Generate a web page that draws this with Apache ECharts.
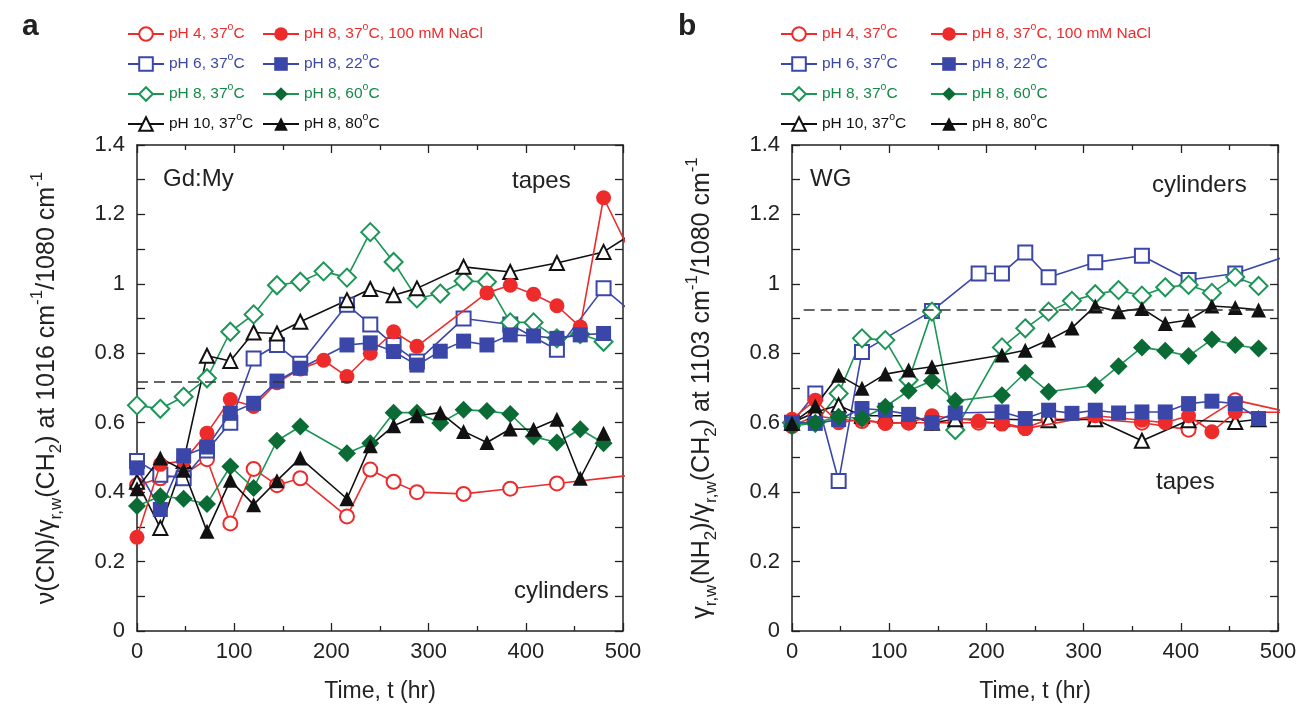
<!DOCTYPE html>
<html><head><meta charset="utf-8">
<script src="https://cdn.jsdelivr.net/npm/echarts@6/dist/echarts.min.js"></script>
<style>html,body{margin:0;padding:0;background:#fff}#c{width:1301px;height:714px}</style>
</head><body><div id="c"></div>
<script>
// ---------- data (time in hr, ratio) ----------
const seriesNames = ['pH 4, 37°C','pH 6, 37°C','pH 8, 37°C','pH 10, 37°C','pH 8, 37°C, 100 mM NaCl','pH 8, 22°C','pH 8, 60°C','pH 8, 80°C'];
const xTicks = [0,100,200,300,400,500];
const yTicks = [0,0.2,0.4,0.6,0.8,1,1.2,1.4];
const dashA = 0.717;
const dashB = 0.924;

// panel a (Gd:My)
const a_pH4   = [[0,0.42],[24,0.44],[48,0.45],[72,0.495],[96,0.31],[120,0.467],[144,0.42],[168,0.44],[216,0.33],[240,0.465],[264,0.43],[288,0.40],[336,0.395],[384,0.41],[432,0.425],[528,0.455]];
const a_pH6   = [[0,0.49],[24,0.45],[48,0.44],[72,0.52],[96,0.60],[120,0.785],[144,0.824],[168,0.77],[216,0.94],[240,0.883],[264,0.824],[288,0.776],[336,0.90],[384,0.883],[432,0.81],[480,0.987],[504,0.93]];
const a_pH8   = [[0,0.65],[24,0.64],[48,0.675],[72,0.728],[96,0.862],[120,0.912],[144,0.996],[168,1.006],[192,1.036],[216,1.018],[240,1.149],[264,1.063],[288,0.958],[312,0.972],[336,1.008],[360,1.006],[384,0.889],[408,0.889],[432,0.843],[456,0.855],[480,0.833]];
const a_pH10  = [[0,0.43],[24,0.297],[48,0.49],[72,0.793],[96,0.778],[120,0.86],[144,0.857],[168,0.891],[216,0.953],[240,0.985],[264,0.967],[288,0.987],[336,1.049],[384,1.034],[432,1.06],[480,1.092],[504,1.135]];
const a_NaCl  = [[0,0.27],[24,0.48],[48,0.49],[72,0.57],[96,0.667],[120,0.647],[144,0.715],[168,0.755],[192,0.78],[216,0.733],[240,0.80],[264,0.862],[288,0.82],[360,0.974],[384,0.996],[408,0.97],[432,0.937],[456,0.876],[480,1.248],[504,1.11]];
const a_T22   = [[0,0.47],[24,0.35],[48,0.505],[72,0.53],[96,0.627],[120,0.656],[144,0.72],[168,0.757],[216,0.824],[240,0.83],[264,0.805],[288,0.766],[312,0.806],[336,0.835],[360,0.824],[384,0.853],[408,0.85],[432,0.843],[456,0.853],[480,0.857]];
const a_T60   = [[0,0.36],[24,0.388],[48,0.381],[72,0.366],[96,0.474],[120,0.412],[144,0.548],[168,0.589],[216,0.512],[240,0.541],[264,0.629],[288,0.629],[312,0.599],[336,0.637],[360,0.634],[384,0.625],[408,0.56],[432,0.543],[456,0.581],[480,0.541]];
const a_T80   = [[0,0.41],[24,0.498],[48,0.463],[72,0.287],[96,0.434],[120,0.364],[144,0.433],[168,0.498],[216,0.381],[240,0.534],[264,0.591],[288,0.62],[312,0.629],[336,0.575],[360,0.543],[384,0.582],[408,0.581],[432,0.61],[456,0.44],[480,0.57]];

// panel b (WG)
const b_pH4   = [[0,0.59],[24,0.62],[48,0.61],[72,0.605],[96,0.60],[120,0.60],[144,0.60],[168,0.60],[192,0.60],[216,0.60],[240,0.585],[264,0.61],[312,0.61],[360,0.60],[408,0.58],[456,0.665],[504,0.635]];
const b_pH6   = [[0,0.60],[24,0.684],[48,0.432],[72,0.804],[144,0.922],[192,1.03],[216,1.03],[240,1.09],[264,1.019],[312,1.062],[360,1.081],[408,1.011],[456,1.03],[504,1.075]];
const b_pH8   = [[0,0.60],[24,0.60],[48,0.684],[72,0.843],[96,0.838],[120,0.723],[144,0.92],[168,0.579],[216,0.817],[240,0.872],[264,0.92],[288,0.951],[312,0.97],[336,0.982],[360,0.966],[384,0.99],[408,0.997],[432,0.974],[456,1.02],[480,0.994]];
const b_pH10  = [[0,0.60],[24,0.63],[48,0.65],[72,0.62],[96,0.62],[120,0.62],[144,0.60],[168,0.61],[216,0.61],[264,0.607],[312,0.61],[360,0.548],[408,0.607],[456,0.602],[480,0.61]];
const b_NaCl  = [[0,0.61],[24,0.665],[48,0.60],[72,0.61],[96,0.598],[120,0.60],[144,0.62],[192,0.605],[216,0.596],[240,0.583],[312,0.62],[360,0.607],[384,0.60],[408,0.62],[432,0.574],[456,0.63],[504,0.63]];
const b_T22   = [[0,0.60],[24,0.598],[48,0.609],[72,0.641],[96,0.636],[120,0.624],[144,0.60],[168,0.628],[216,0.631],[240,0.612],[264,0.636],[288,0.627],[312,0.636],[336,0.628],[360,0.631],[384,0.631],[408,0.655],[432,0.662],[456,0.655],[480,0.612]];
const b_T60   = [[0,0.59],[24,0.60],[48,0.617],[72,0.612],[96,0.646],[120,0.692],[144,0.721],[168,0.663],[216,0.679],[240,0.744],[264,0.689],[312,0.708],[336,0.763],[360,0.817],[384,0.807],[408,0.792],[432,0.84],[456,0.824],[480,0.814]];
const b_T80   = [[0,0.598],[24,0.648],[48,0.737],[72,0.699],[96,0.74],[120,0.752],[144,0.761],[216,0.795],[240,0.809],[264,0.838],[288,0.873],[312,0.936],[336,0.92],[360,0.929],[384,0.886],[408,0.896],[432,0.936],[456,0.932],[480,0.925]];

// ---------- styles ----------
const FONT = 'Liberation Sans, Arial, Helvetica, sans-serif';
const RED = '#ee2b2b', BLUE = '#3a47a8', GREEN = '#1a9656', DGREEN = '#0a6b34', BLACK = '#111111';
const styleOf = {
  'pH 4, 37°C':              {sym:'emptyCircle',   c:RED,   s:14, k:'r'},
  'pH 6, 37°C':              {sym:'emptyRect',     c:BLUE,  s:14, k:'b'},
  'pH 8, 37°C':              {sym:'emptyDiamond',  c:GREEN, s:18, k:'g'},
  'pH 10, 37°C':             {sym:'emptyTriangle', c:BLACK, s:14, k:'k'},
  'pH 8, 37°C, 100 mM NaCl': {sym:'circle',        c:RED,   s:15, k:'r'},
  'pH 8, 22°C':              {sym:'rect',          c:BLUE,  s:15, k:'b'},
  'pH 8, 60°C':              {sym:'diamond',       c:DGREEN,s:18, k:'g', lc:GREEN},
  'pH 8, 80°C':              {sym:'triangle',      c:BLACK, s:15, k:'k'}
};
const textCol = {r:RED, b:BLUE, g:'#128a48', k:BLACK};
const rich = {};
Object.keys(textCol).forEach(k => {
  rich[k] = {color:textCol[k], fontSize:15.5, lineHeight:24, fontFamily:FONT};
  rich[k+'s'] = {color:textCol[k], fontSize:10.5, lineHeight:12, verticalAlign:'top', fontFamily:FONT};
});
function legendFmt(name){
  const k = styleOf[name].k;
  const parts = name.split('°');
  return '{'+k+'|'+parts[0]+'}{'+k+'s|o}{'+k+'|'+parts[1]+'}';
}

function mkSeries(name, data, gi, markY, markFrom){
  const st = styleOf[name];
  const empty = st.sym.indexOf('empty') === 0;
  const s = {
    name, type:'line', data, xAxisIndex: gi*2, yAxisIndex: gi*2,
    symbol: st.sym, symbolSize: st.s, showAllSymbol:true, clip:true,
    lineStyle:{color: st.lc || st.c, width:1.6},
    itemStyle:{color: st.c, borderColor: st.c, borderWidth: empty ? 1.2 : 0},
    emphasis:{disabled:true}, animation:false, z: empty ? 3 : 4
  };
  if (markY !== undefined) {
    s.markLine = {silent:true, symbol:'none', animation:false,
      label:{show:false},
      lineStyle:{type:[11,6], color:'#333', width:1.6},
      data:[[{coord:[markFrom, markY]},{coord:[500, markY]}]]};
  }
  return s;
}

const aData = {'pH 4, 37°C':a_pH4,'pH 6, 37°C':a_pH6,'pH 8, 37°C':a_pH8,'pH 10, 37°C':a_pH10,'pH 8, 37°C, 100 mM NaCl':a_NaCl,'pH 8, 22°C':a_T22,'pH 8, 60°C':a_T60,'pH 8, 80°C':a_T80};
const bData = {'pH 4, 37°C':b_pH4,'pH 6, 37°C':b_pH6,'pH 8, 37°C':b_pH8,'pH 10, 37°C':b_pH10,'pH 8, 37°C, 100 mM NaCl':b_NaCl,'pH 8, 22°C':b_T22,'pH 8, 60°C':b_T60,'pH 8, 80°C':b_T80};

const series = [];
seriesNames.forEach((n,i) => series.push(mkSeries(n, aData[n], 0, i===0?dashA:undefined, 0)));
seriesNames.forEach((n,i) => series.push(mkSeries(n, bData[n], 1, i===0?dashB:undefined, 12)));

const grids = [
  {left:137, top:145, width:486, height:486},
  {left:792, top:145, width:486, height:486}
];
function xAx(gi, pos){
  const bottom = pos === 'bottom';
  return {type:'value', gridIndex:gi, position:pos, min:0, max:500, interval:100,
    axisLine:{show:true, onZero:false, lineStyle:{color:'#222', width:1.5}},
    axisTick:{show:true, inside:true, length:8, lineStyle:{color:'#222', width:1.3}},
    minorTick:{show:true, splitNumber:2, length:5, lineStyle:{color:'#222', width:1.3}},
    splitLine:{show:false},
    axisLabel:{show:bottom, fontSize:22, color:'#222', fontFamily:FONT, margin:10},
    name: bottom ? 'Time, t (hr)' : '', nameLocation:'middle', nameGap:49,
    nameTextStyle:{fontSize:23, color:'#222', fontFamily:FONT}};
}
const yNameA = '{t|ν(CN)/γ}{sb|r,w}{t|(CH}{sb|2}{t|) at 1016 cm}{sp|-1}{t|/1080 cm}{sp|-1}';
const yNameB = '{t|γ}{sb|r,w}{t|(NH}{sb|2}{t|)/γ}{sb|r,w}{t|(CH}{sb|2}{t|) at 1103 cm}{sp|-1}{t|/1080 cm}{sp|-1}';
const yRich = {
  t:{fontSize:25, lineHeight:36, color:'#222', fontFamily:FONT},
  sb:{fontSize:17, lineHeight:17, verticalAlign:'bottom', color:'#222', fontFamily:FONT},
  sp:{fontSize:17, lineHeight:17, verticalAlign:'top', color:'#222', fontFamily:FONT}
};
function yAx(gi, pos, name){
  const left = pos === 'left';
  return {type:'value', gridIndex:gi, position:pos, min:0, max:1.4, interval:0.2,
    axisLine:{show:true, onZero:false, lineStyle:{color:'#222', width:1.5}},
    axisTick:{show:true, inside:true, length:8, lineStyle:{color:'#222', width:1.3}},
    minorTick:{show:true, splitNumber:2, length:8, lineStyle:{color:'#222', width:1.3}},
    splitLine:{show:false},
    axisLabel:{show:left, fontSize:22, color:'#222', fontFamily:FONT, margin:12},
    name: left ? name : '', nameLocation:'middle', nameGap:72, nameRotate:90,
    nameTextStyle:{rich:yRich}};
}

function legend(left, top, names){
  return {left, top, orient:'vertical', data:names, itemWidth:36, itemHeight:17, itemGap:10,
    formatter:legendFmt, textStyle:{rich}, selectedMode:false, padding:0};
}
const col1 = seriesNames.slice(0,4), col2 = seriesNames.slice(4);

const chart = echarts.init(document.getElementById('c'), null, {renderer:'canvas'});
chart.setOption({
  backgroundColor:'#fff', animation:false,
  grid: grids,
  xAxis:[xAx(0,'bottom'), xAx(0,'top'), xAx(1,'bottom'), xAx(1,'top')],
  yAxis:[yAx(0,'left',yNameA), yAx(0,'right'), yAx(1,'left',yNameB), yAx(1,'right')],
  legend:[legend(127,22,col1), legend(262,22,col2), legend(780,22,col1), legend(930,22,col2)],
  series,
  graphic:[
    {type:'text', left:22, top:12, style:{text:'a', font:'bold 30px '+FONT, fill:'#222'}},
    {type:'text', left:678, top:12, style:{text:'b', font:'bold 30px '+FONT, fill:'#222'}},
    {type:'text', left:163, top:167, style:{text:'Gd:My', font:'24px '+FONT, fill:'#222'}},
    {type:'text', left:512, top:169, style:{text:'tapes', font:'24px '+FONT, fill:'#222'}},
    {type:'text', left:514, top:579, style:{text:'cylinders', font:'24px '+FONT, fill:'#222'}},
    {type:'text', left:810, top:167, style:{text:'WG', font:'24px '+FONT, fill:'#222'}},
    {type:'text', left:1152, top:173, style:{text:'cylinders', font:'24px '+FONT, fill:'#222'}},
    {type:'text', left:1156, top:470, style:{text:'tapes', font:'24px '+FONT, fill:'#222'}}
  ]
});
</script></body></html>
